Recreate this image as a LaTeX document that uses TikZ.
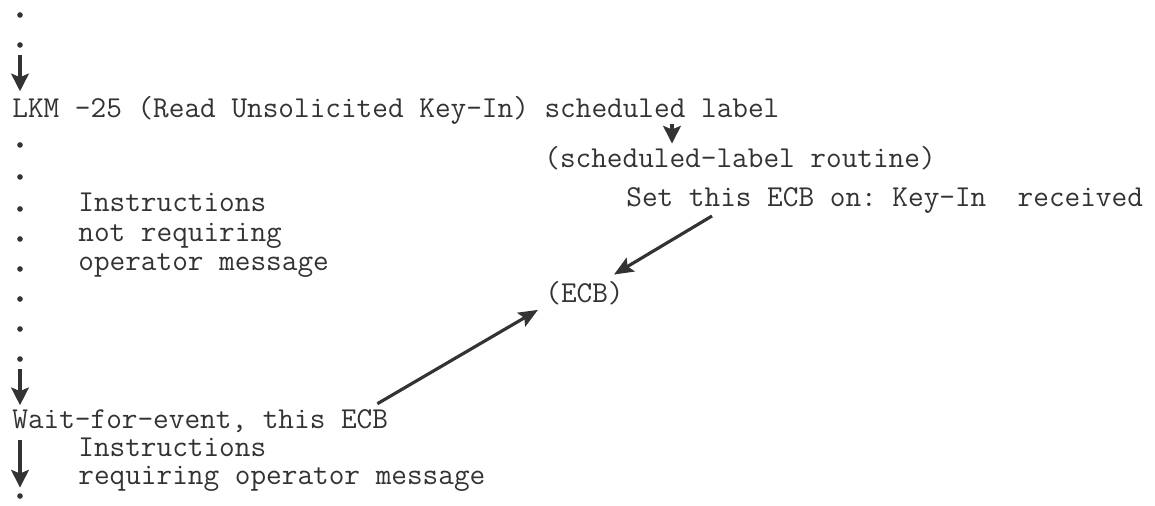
\documentclass[tikz,border=0pt]{standalone}
\usepackage{tikz}
\usetikzlibrary{arrows.meta}
\usepackage{xcolor}
\definecolor{ink}{gray}{0.2}

\begin{document}
\begin{tikzpicture}[x=0.02cm, y=-0.02cm,
    tt/.style={anchor=base west, inner sep=0pt, text=ink, font=\fontsize{17.3}{20}\selectfont\ttfamily\frenchspacing},
    pt/.style={circle, fill=ink, inner sep=0pt, minimum size=3.2pt},
    flow/.style={draw=ink, line width=2.2pt, -{Stealth[length=10pt, width=10pt, inset=2pt]}},
    link/.style={draw=ink, line width=1.8pt, -{Stealth[length=11pt, width=9pt, inset=2pt]}}]
\useasboundingbox (0,0) rectangle (1155,506);

\node[tt] (lkm) at (12,118) {LKM -25 (Read Unsolicited Key-In) scheduled label};
\node[tt] (ins) at (78,212) {Instructions};
\node[tt] (notreq) at (78,242) {not requiring};
\node[tt] (opmsg) at (78,271) {operator message};
\node[tt] (wait) at (12,428) {Wait-for-event, this ECB};
\node[tt] (ins2) at (78,456) {Instructions};
\node[tt] (reqmsg) at (78,484) {requiring operator message};

\node[tt] (routine) at (544,168) {(scheduled-label routine)};
\node[tt] (seton) at (626,207) {Set this ECB on: Key-In\ \ received};
\node[tt] (ecb) at (545,302) {(ECB)};

\foreach \y [count=\i] in {15,45,145,177,209,239,269,299,329,359,496}
    \node[pt] (d\i) at (20,\y) {};

\draw[flow, shorten <=4pt, shorten >=3pt] (d2) -- (d2 |- lkm.north);
\draw[flow, shorten <=4pt, shorten >=2pt] (d10) -- (d10 |- wait.north);
\draw[flow, shorten <=4pt, shorten >=3pt] (d11 |- wait.south) -- (d11);
\draw[flow] ([shift={(660,6)}]lkm.base west) -- ([shift={(660,-3)}]lkm.base west |- routine.north);
%
\draw[link] ([shift={(86,9)}]seton.base west) -- ([shift={(-10,-6)}]ecb.north east);
\draw[link] ([shift={(-11,-5)}]wait.north east) -- ([shift={(-7,5)}]ecb.south west);
\end{tikzpicture}
\end{document}
